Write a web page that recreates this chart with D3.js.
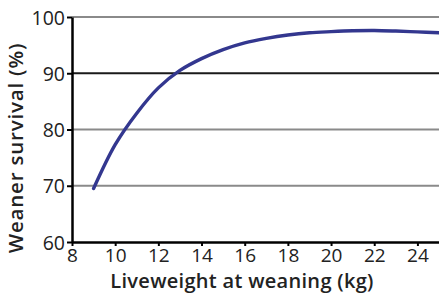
<!DOCTYPE html>
<html>
<head>
<meta charset="utf-8">
<script src="https://cdn.jsdelivr.net/npm/d3@7"></script>
<style>
  body { margin: 0; background: #fff; }
  svg { display: block; font-family: "Open Sans", sans-serif; }
  .tick text { fill: #222; }
  .axis path, .axis line { stroke: #000; }
</style>
</head>
<body>
<div id="chart"></div>
<script>
// liveweight at weaning (kg) vs weaner survival (%)
const weights = [9, 10, 11, 12, 13, 14, 15, 16, 17, 18, 19, 20, 21, 22, 23, 24, 25];
const survival = [69.5, 77.3, 82.9, 87.4, 90.5, 92.6, 94.2, 95.4, 96.2, 96.8, 97.2, 97.4, 97.55, 97.6, 97.5, 97.35, 97.2];
const xTicks = [8, 10, 12, 14, 16, 18, 20, 22, 24];
const yTicks = [60, 70, 80, 90, 100];
const gridLines = [70, 80, 90, 100];

const width = 439, height = 294;
const margin = { top: 17, right: 0, bottom: 52, left: 72 };

const svg = d3.select("#chart").append("svg")
    .attr("width", width)
    .attr("height", height);

const g = svg.append("g")
    .attr("transform", "translate(" + margin.left + "," + margin.top + ")");

const innerW = width - margin.left - margin.right;
const innerH = height - margin.top - margin.bottom;

const x = d3.scaleLinear().domain([8, 25]).range([0, innerW]);
const y = d3.scaleLinear().domain([60, 100]).range([innerH, 0]);

// gridlines, 90 drawn darker like the original
g.selectAll(".grid")
  .data(gridLines)
  .enter().append("line")
    .attr("class", "grid")
    .attr("x1", 0)
    .attr("x2", innerW)
    .attr("y1", d => y(d))
    .attr("y2", d => y(d))
    .attr("stroke", d => d == 90 ? "#1a1a1a" : "#8a8a8a")
    .attr("stroke-width", 2);

// curve
const line = d3.line()
    .x((d, i) => x(weights[i]))
    .y(d => y(d))
    .curve(d3.curveCatmullRom.alpha(0.5));

g.append("path")
    .datum(survival)
    .attr("fill", "none")
    .attr("stroke", "#33378f")
    .attr("stroke-width", 3.4)
    .attr("stroke-linecap", "round")
    .attr("d", line);

// axes
const xAxis = g.append("g")
    .attr("class", "axis")
    .attr("transform", "translate(0," + innerH + ")")
    .call(d3.axisBottom(x).tickValues(xTicks).tickSize(4).tickSizeOuter(0).tickPadding(3));

const yAxis = g.append("g")
    .attr("class", "axis")
    .call(d3.axisLeft(y).tickValues(yTicks).tickSize(5).tickSizeOuter(0).tickPadding(2));

xAxis.select(".domain").attr("stroke-width", 2.5);
yAxis.select(".domain").attr("stroke-width", 2.5);
xAxis.selectAll(".tick line").attr("stroke-width", 2);
yAxis.selectAll(".tick line").attr("stroke-width", 2);
xAxis.selectAll(".tick text").attr("font-family", "Open Sans").attr("font-size", 19);
yAxis.selectAll(".tick text").attr("font-family", "Open Sans").attr("font-size", 19.5).attr("dy", "0.36em");

// titles
svg.append("text")
    .attr("x", 242)
    .attr("y", 288)
    .attr("text-anchor", "middle")
    .attr("font-size", 20)
    .attr("font-weight", 600)
    .attr("letter-spacing", 0.3)
    .attr("fill", "#222")
    .text("Liveweight at weaning (kg)");

svg.append("text")
    .attr("transform", "translate(23,148) rotate(-90)")
    .attr("text-anchor", "middle")
    .attr("font-size", 20.5)
    .attr("font-weight", 600)
    .attr("letter-spacing", 0.8)
    .attr("fill", "#222")
    .text("Weaner survival (%)");
</script>
</body>
</html>
